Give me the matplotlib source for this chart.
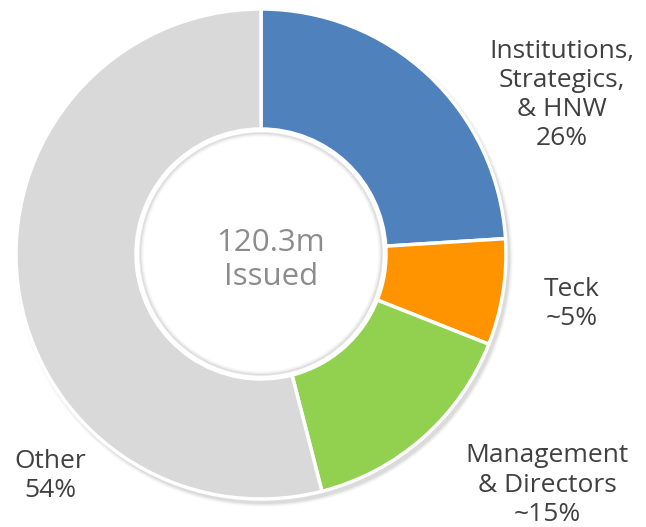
import matplotlib.pyplot as plt
from matplotlib.patches import Circle

labels = ['Institutions,\nStrategics,\n& HNW\n26%', 'Teck\n~5%', 'Management\n& Directors\n~15%', 'Other\n54%']
# slice sizes as drawn in the picture
shares = [24, 7, 15, 54]
colors = ['#4F81BD', '#FF9300', '#92D050', '#D9D9D9']
center_text = '120.3m\nIssued'

plt.rcParams['font.family'] = ['Open Sans', 'DejaVu Sans']

fig = plt.figure(figsize=(6.46, 5.27), dpi=100)
ax = fig.add_axes([0, 0, 1, 1])

cx, cy = 261, 273
# soft shadow under the ring
for i, a in enumerate([0.05, 0.04, 0.03, 0.02]):
    ax.add_patch(Circle((cx + 3, cy - 4), 246 + i, color='black', alpha=a, lw=0, zorder=0))

ax.pie(shares, colors=colors, startangle=90, counterclock=False,
       center=(cx, cy), radius=245, frame=True,
       wedgeprops=dict(width=120, edgecolor='white', linewidth=2.5))

# hole with a thin white rim and faint inner shadow
ax.add_patch(Circle((cx, cy), 124, color='white', lw=0, zorder=3))
for i, a in enumerate([0.10, 0.06, 0.035, 0.02]):
    ax.add_patch(Circle((cx, cy), 121 - i, fill=False, ec='black', alpha=a, lw=1.2, zorder=4))

ax.set_xlim(0, 646)
ax.set_ylim(0, 527)
ax.set_aspect('equal')
ax.axis('off')

# label positions
pos = [(562, 432), (572, 223), (547, 42), (50, 51)]
for lab, (x, y) in zip(labels, pos):
    ax.text(x, y, lab, ha='center', va='center', fontsize=19,
            color='#404040', linespacing=1.22)

ax.text(271, 267, center_text, ha='center', va='center', fontsize=22.5,
        color='#8C8C8C', linespacing=1.2, zorder=5)

fig.savefig('out.png', dpi=100)
